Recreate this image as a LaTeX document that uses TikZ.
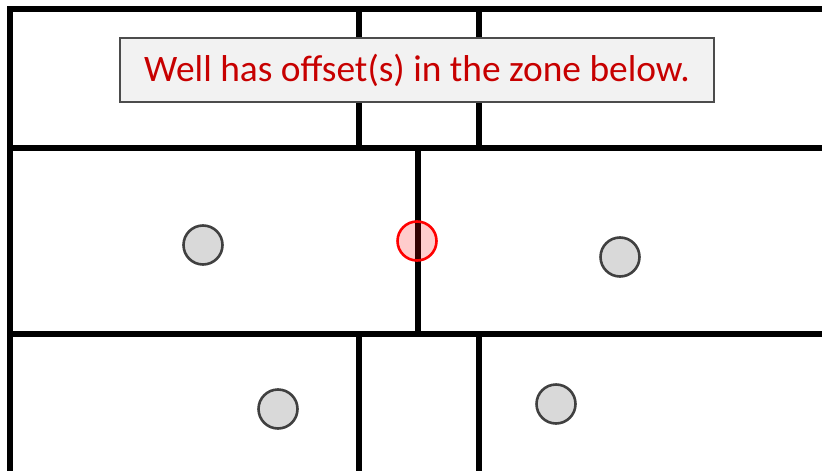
\documentclass[tikz,border=0pt]{standalone}
\usepackage{fontspec}
\setmainfont{Carlito}
\begin{document}
\begin{tikzpicture}[
    x=0.5pt, y=-0.5pt,
    wall/.style={line width=2.7pt, line cap=rect},
    well/.style={circle, draw=black!75, line width=1.3pt, fill=black!15, minimum size=19.5pt, inner sep=0pt},
    offset/.style={circle, draw=red, line width=1.3pt, fill=red, fill opacity=0.2, draw opacity=1, minimum size=19.5pt, inner sep=0pt},
    note/.style={rectangle, draw=black!70, line width=0.6pt, fill=black!5, text=red!78!black, minimum width=297pt, minimum height=32pt, font=\fontsize{18.7pt}{22pt}\selectfont}
]
    \useasboundingbox (0,0) rectangle (822,470);
    % zone outlines
    \draw[wall] (822,9) -- (10,9) -- (10,470);
    \draw[wall] (10,148) -- (822,148);
    \draw[wall] (10,334) -- (822,334);
    \draw[wall] (359,9) -- (359,148);
    \draw[wall] (479,9) -- (479,148);
    \draw[wall] (418,148) -- (418,334);
    \draw[wall] (359,334) -- (359,470);
    \draw[wall] (479,334) -- (479,470);

    \node[note] (msg) at (417,70) {Well has offset(s) in the zone below.};

    \node[well] (w1) at (203,245) {};
    \node[offset] (w2) at (417,241) {};
    \node[well] (w3) at (620,257) {};
    \node[well] (w4) at (278,409) {};
    \node[well] (w5) at (556,404) {};
\end{tikzpicture}
\end{document}
